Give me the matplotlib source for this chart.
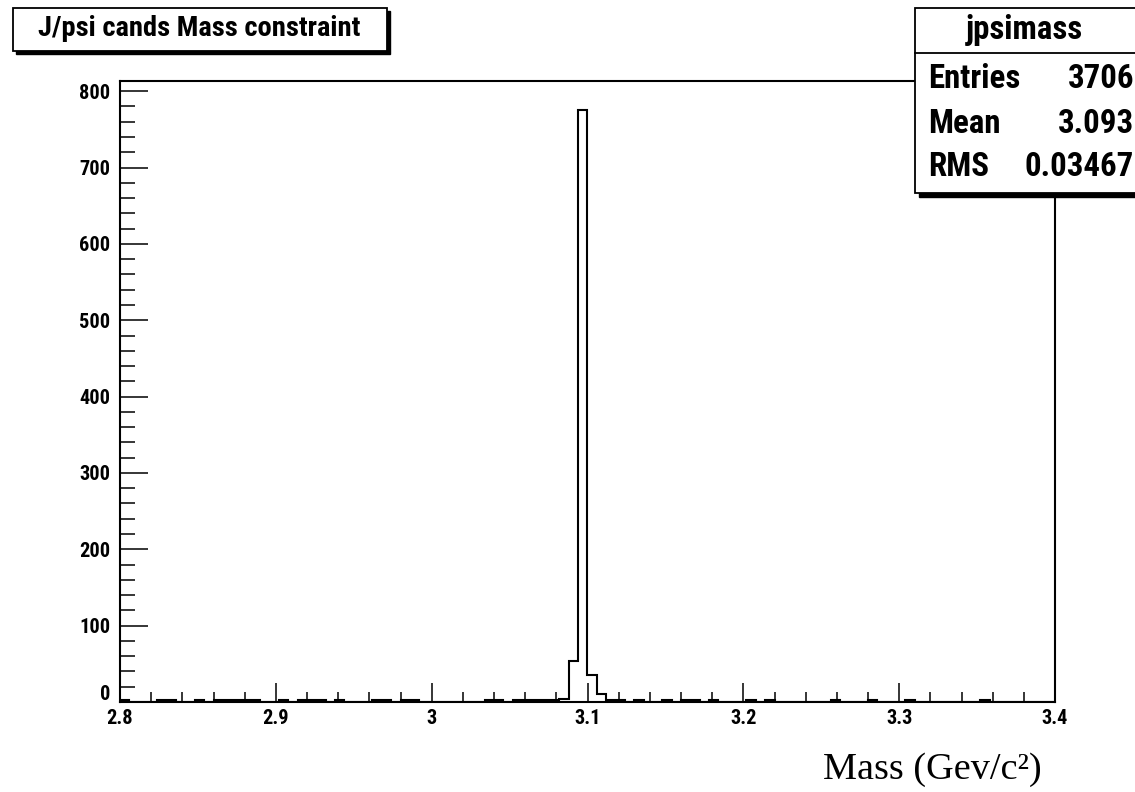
import os
import matplotlib
matplotlib.use('Agg')
import matplotlib.pyplot as plt
from matplotlib import font_manager as fm
from matplotlib.patches import Rectangle
from matplotlib.lines import Line2D
from matplotlib.ticker import MultipleLocator
import numpy as np

W, H = 1135, 792

# histogram binning and bin contents
x_lo, x_hi, n_bins = 2.8, 3.4, 100
counts = [
    2, 0, 0, 0, 2, 2, 0, 0, 2, 0,
    2, 2, 2, 2, 2, 0, 0, 2, 0, 2,
    2, 2, 0, 2, 0, 0, 0, 2, 2, 0,
    2, 2, 0, 0, 0, 0, 0, 0, 0, 2,
    2, 0, 2, 2, 2, 2, 3, 4, 54, 775,
    36, 10, 2, 2, 0, 2, 0, 0, 2, 0,
    2, 2, 0, 2, 0, 0, 0, 2, 0, 2,
    0, 0, 0, 0, 0, 0, 2, 0, 0, 0,
    2, 0, 0, 0, 2, 0, 0, 0, 0, 0,
    0, 0, 2, 0, 0, 0, 0, 0, 0, 0,
]
xticks = [2.8, 2.9, 3.0, 3.1, 3.2, 3.3, 3.4]
xticklabels = ['2.8', '2.9', '3', '3.1', '3.2', '3.3', '3.4']
yticks = [0, 100, 200, 300, 400, 500, 600, 700, 800]
yticklabels = ['', '100', '200', '300', '400', '500', '600', '700', '800']

hist_name = 'jpsimass'
title = 'J/psi cands Mass constraint'
stat_names = ['Entries', 'Mean', 'RMS']
stat_values = ['3706', '3.093', '0.03467']
xlabel = 'Mass (Gev/c\u00b2)'


def narrow_bold():
    # Helvetica-narrow look-alike, take the first one that is installed
    wanted = ['LiberationSansNarrow-Bold.ttf', 'RobotoCondensed-Bold.ttf',
              'NotoSans-CondensedBold.ttf', 'DejaVuSansCondensed-Bold.ttf',
              'LiberationSans-Bold.ttf']
    files = {os.path.basename(f.fname): f.fname for f in fm.fontManager.ttflist}
    for name in wanted:
        if name in files:
            return fm.FontProperties(fname=files[name])
    return fm.FontProperties(family='DejaVu Sans', weight='bold', stretch='condensed')


def fx(x):
    return x / W


def fy(y):
    return 1 - y / H


def frame_box(fig, x0, y0, x1, y1, shadow=3):
    # white box with a black drop shadow, coordinates in pixels
    fig.add_artist(Rectangle((fx(x0 + shadow), fy(y1 + shadow)), (x1 - x0) / W, (y1 - y0) / H,
                             transform=fig.transFigure, facecolor='black', edgecolor='black',
                             lw=1.0, zorder=5))
    fig.add_artist(Rectangle((fx(x0), fy(y1)), (x1 - x0) / W, (y1 - y0) / H,
                             transform=fig.transFigure, facecolor='white', edgecolor='black',
                             lw=1.3, zorder=6))


def size_for(fig, text, width_px, fp):
    # font size that makes `text` about width_px wide
    probe = fig.text(0, 0, text, fontproperties=fp, fontsize=20)
    w = probe.get_window_extent(fig.canvas.get_renderer()).width
    probe.remove()
    return 20 * width_px / w


fp = narrow_bold()
serif = fm.FontProperties(family=['Liberation Serif', 'DejaVu Serif'])

fig = plt.figure(figsize=(W / 100, H / 100), dpi=100)
tick_size = size_for(fig, '800', 31, fp)
title_size = size_for(fig, title, 321, fp)
stat_size = size_for(fig, 'Entries', 92, fp)
xlabel_size = size_for(fig, xlabel, 218, serif)

ax = fig.add_axes([fx(120), fy(702), (1055 - 120) / W, (702 - 80.7) / H])

edges = np.linspace(x_lo, x_hi, n_bins + 1)
ax.stairs(counts, edges, color='black', linewidth=1.5, baseline=0)

ax.set_xlim(x_lo, x_hi)
ax.set_ylim(0, max(counts) * 1.05)

ax.set_xticks(xticks)
ax.set_xticklabels(xticklabels)
ax.set_yticks(yticks)
ax.set_yticklabels(yticklabels)
ax.xaxis.set_minor_locator(MultipleLocator(0.02))
ax.yaxis.set_minor_locator(MultipleLocator(20))

ax.tick_params(axis='x', which='major', direction='in', length=13.5, width=1.1, pad=5)
ax.tick_params(axis='x', which='minor', direction='in', length=7.2, width=1.1)
ax.tick_params(axis='y', which='major', direction='in', length=20, width=1.1, pad=7)
ax.tick_params(axis='y', which='minor', direction='in', length=10.8, width=1.1)
for lab in ax.get_xticklabels() + ax.get_yticklabels():
    lab.set_fontproperties(fp)
    lab.set_fontsize(tick_size)

# zero label sits a little above the axis so it clears "2.8"
ax.annotate('0', xy=(0, 0), xycoords=('axes fraction', 'data'), xytext=(-10, 8),
            textcoords='offset pixels', ha='right', va='center',
            fontproperties=fp, fontsize=tick_size)

for sp in ax.spines.values():
    sp.set_linewidth(1.5)
    sp.set_color('black')

# title pave
frame_box(fig, 13, 8, 387, 51)
fig.text(fx(199), fy(29), title, ha='center', va='center', fontproperties=fp,
         fontsize=title_size, zorder=7)

# statistics pave
frame_box(fig, 915, 8, 1145, 193, shadow=4)
fig.add_artist(Line2D([fx(915), fx(1145)], [fy(52.7), fy(52.7)], transform=fig.transFigure,
                      color='black', lw=1.3, zorder=7))
fig.text(fx(1024), fy(30), hist_name, ha='center', va='center', fontproperties=fp,
         fontsize=stat_size, zorder=7)
for name, val, y in zip(stat_names, stat_values, [79, 124, 167]):
    fig.text(fx(928), fy(y), name, ha='left', va='center', fontproperties=fp,
             fontsize=stat_size, zorder=7)
    fig.text(fx(1134), fy(y), val, ha='right', va='center', fontproperties=fp,
             fontsize=stat_size, zorder=7)

fig.text(fx(1042), fy(770), xlabel, ha='right', va='center',
         fontproperties=serif, fontsize=xlabel_size)

fig.savefig('out.png', dpi=100)
